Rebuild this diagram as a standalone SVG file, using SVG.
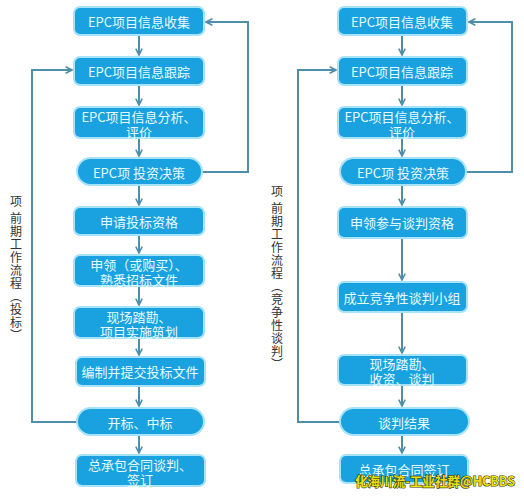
<svg xmlns="http://www.w3.org/2000/svg" width="524" height="496" viewBox="0 0 524 496">
<defs>
<style>
.n{fill:#1aa2e0;stroke:#a6e3f8;stroke-width:2}
.t{font-family:"Noto Sans CJK SC","Noto Sans",sans-serif;font-size:13px;fill:#e6fbff;text-anchor:middle;dominant-baseline:central}
.c{fill:none;stroke:#4f8ea8;stroke-width:2}
.v{font-family:"Noto Sans CJK SC","Noto Sans",sans-serif;font-size:12px;fill:#333;writing-mode:vertical-rl;letter-spacing:1px}
.w{font-family:"Noto Sans CJK SC","Liberation Sans",sans-serif;font-size:13px;font-weight:bold;fill:#e8de10;stroke:#3b3b10;stroke-width:1.2px;paint-order:stroke;dominant-baseline:central}
</style>
<marker id="a" viewBox="0 0 10 10" refX="9" refY="5" markerWidth="8" markerHeight="8" markerUnits="userSpaceOnUse" orient="auto">
<path d="M1,1 L9,5 L1,9" fill="none" stroke="#4f8ea8" stroke-width="2"/>
</marker>
</defs>
<rect width="524" height="496" fill="#fff"/>
<g id="connectors">
<path class="c" d="M139,35 V55" marker-end="url(#a)"/>
<path class="c" d="M139,85 V105" marker-end="url(#a)"/>
<path class="c" d="M139,138 V156" marker-end="url(#a)"/>
<path class="c" d="M139,185 V205" marker-end="url(#a)"/>
<path class="c" d="M139,235 V253" marker-end="url(#a)"/>
<path class="c" d="M139,286 V305" marker-end="url(#a)"/>
<path class="c" d="M139,338 V355" marker-end="url(#a)"/>
<path class="c" d="M139,386 V406" marker-end="url(#a)"/>
<path class="c" d="M139,435 V453" marker-end="url(#a)"/>
<path class="c" d="M77,422 H32 V70 H72" marker-end="url(#a)"/>
<path class="c" d="M202,172 H248 V22 H206" marker-end="url(#a)"/>
<path class="c" d="M402,35 V55" marker-end="url(#a)"/>
<path class="c" d="M402,85 V105" marker-end="url(#a)"/>
<path class="c" d="M402,138 V156" marker-end="url(#a)"/>
<path class="c" d="M402,185 V205" marker-end="url(#a)"/>
<path class="c" d="M402,238 V280" marker-end="url(#a)"/>
<path class="c" d="M402,312 V353" marker-end="url(#a)"/>
<path class="c" d="M402,385 V406" marker-end="url(#a)"/>
<path class="c" d="M402,435 V453" marker-end="url(#a)"/>
<path class="c" d="M340,422 H298 V70 H336" marker-end="url(#a)"/>
<path class="c" d="M466,172 H512 V22 H469" marker-end="url(#a)"/>
</g>
<g id="L1"><rect class="n" x="74" y="7" width="130" height="28" rx="6"/><text class="t" x="139" y="21">EPC项目信息收集</text></g>
<g id="L2"><rect class="n" x="74" y="57" width="130" height="28" rx="6"/><text class="t" x="139" y="71">EPC项目信息跟踪</text></g>
<g id="L3"><rect class="n" x="74" y="107" width="130" height="31" rx="6"/><text class="t"><tspan x="139" y="116">EPC项目信息分析、</tspan><tspan x="139" y="131">评价</tspan></text></g>
<g id="L4"><rect class="n" x="77" y="158" width="125" height="27" rx="13.5"/><text class="t" x="139" y="172">EPC项 投资决策</text></g>
<g id="L5"><rect class="n" x="74" y="207" width="130" height="28" rx="6"/><text class="t" x="139" y="221">申请投标资格</text></g>
<g id="L6"><rect class="n" x="74" y="255" width="130" height="31" rx="6"/><text class="t"><tspan x="139" y="264">申领（或购买）、</tspan><tspan x="139" y="279">熟悉招标文件</tspan></text></g>
<g id="L7"><rect class="n" x="74" y="307" width="130" height="31" rx="6"/><text class="t"><tspan x="139" y="316">现场踏勘、</tspan><tspan x="139" y="331">项目实施筑划</tspan></text></g>
<g id="L8"><rect class="n" x="76" y="357" width="129" height="29" rx="6"/><text class="t" x="140" y="371">编制并提交投标文件</text></g>
<g id="L9"><rect class="n" x="77" y="408" width="127" height="27" rx="13.5"/><text class="t" x="140" y="422">开标、中标</text></g>
<g id="L10"><rect class="n" x="76" y="455" width="129" height="31" rx="6"/><text class="t"><tspan x="140" y="464">总承包合同谈判、</tspan><tspan x="140" y="479">签订</tspan></text></g>
<g id="R1"><rect class="n" x="338" y="7" width="129" height="28" rx="6"/><text class="t" x="402" y="21">EPC项目信息收集</text></g>
<g id="R2"><rect class="n" x="338" y="57" width="129" height="28" rx="6"/><text class="t" x="402" y="71">EPC项目信息跟踪</text></g>
<g id="R3"><rect class="n" x="338" y="107" width="129" height="31" rx="6"/><text class="t"><tspan x="402" y="116">EPC项目信息分析、</tspan><tspan x="402" y="131">评价</tspan></text></g>
<g id="R4"><rect class="n" x="340" y="158" width="126" height="27" rx="13.5"/><text class="t" x="403" y="172">EPC项 投资决策</text></g>
<g id="R5"><rect class="n" x="338" y="207" width="129" height="31" rx="6"/><text class="t" x="402" y="222">申领参与谈判资格</text></g>
<g id="R6"><rect class="n" x="338" y="282" width="129" height="30" rx="6"/><text class="t" x="402" y="297">成立竞争性谈判小组</text></g>
<g id="R7"><rect class="n" x="338" y="355" width="129" height="30" rx="6"/><text class="t"><tspan x="402" y="363">现场踏勘、</tspan><tspan x="402" y="378">收资、谈判</tspan></text></g>
<g id="R8"><rect class="n" x="340" y="408" width="129" height="27" rx="13.5"/><text class="t" x="404" y="422">谈判结果</text></g>
<g id="R9"><rect class="n" x="340" y="455" width="128" height="28" rx="6"/><text class="t" x="404" y="469">总承包合同签订</text></g>
<g id="labelL"><text class="v" x="16" y="195">项</text><text class="v" x="16" y="212">前期工作流程（投标）</text></g>
<g id="labelR"><text class="v" x="277" y="185">项</text><text class="v" x="277" y="202">前期工作流程（竞争性谈判）</text></g>
<text class="w" x="355" y="480" textLength="160" lengthAdjust="spacingAndGlyphs">化海川流-工业社群@HCBBS</text>
</svg>
